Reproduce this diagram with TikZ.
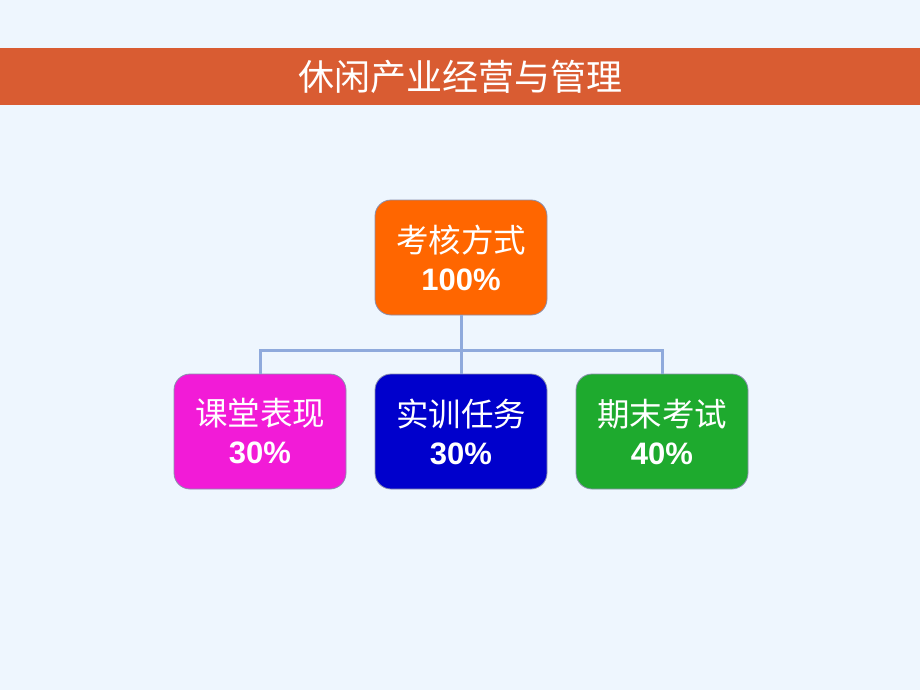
\documentclass[tikz,border=0pt]{standalone}
\usepackage{fontspec}
\setmainfont{Liberation Sans}
\newfontfamily\cjk{Noto Sans CJK SC}
\usepackage{tikz}
\usetikzlibrary{positioning,calc}

\definecolor{pagebg}{HTML}{EEF6FE}
\definecolor{titlebar}{HTML}{D95C32}
\definecolor{linkblue}{HTML}{8FAADC}
\definecolor{boxline}{HTML}{8A8FAE}
\definecolor{orangebox}{HTML}{FF6600}
\definecolor{pinkbox}{HTML}{F21BD7}
\definecolor{bluebox}{HTML}{0000CC}
\definecolor{greenbox}{HTML}{1EAA2E}

\tikzset{
    part/.style={draw=boxline, line width=0.8pt, rounded corners=16pt,
        minimum width=172pt, minimum height=115pt, text=white,
        align=center, inner sep=0pt, font=\fontsize{31}{40}\selectfont},
    link/.style={draw=linkblue, line width=3pt}
}

\newcommand{\parttext}[2]{{\cjk\fontsize{32.5}{40}\selectfont #1}\\[-2pt]\textbf{#2}}

\begin{document}
\begin{tikzpicture}[x=1pt, y=-1pt]
    \fill[pagebg] (0,0) rectangle (920,690);
    \useasboundingbox (0,0) rectangle (920,690);
    \fill[titlebar] (0,48) rectangle (920,105);
    \node[text=white, font=\cjk\fontsize{36}{40}\selectfont] (title) at (460,77) {休闲产业经营与管理};

    \node[part, fill=orangebox] (kaohe) at (461,257.5) {\parttext{考核方式}{100\%}};
    \node[part, fill=pinkbox] (ketang) at (260,431.5) {\parttext{课堂表现}{30\%}};
    \node[part, fill=bluebox] (shixun) at (461,431.5) {\parttext{实训任务}{30\%}};
    \node[part, fill=greenbox] (qimo) at (662,431.5) {\parttext{期末考试}{40\%}};

    \coordinate (bus) at (461,350);
    \draw[link] (kaohe.south) -- (bus);
    \draw[link] (bus) -| (ketang.north);
    \draw[link] (bus) -| (qimo.north);
    \draw[link] (bus) -- (shixun.north);
\end{tikzpicture}
\end{document}
